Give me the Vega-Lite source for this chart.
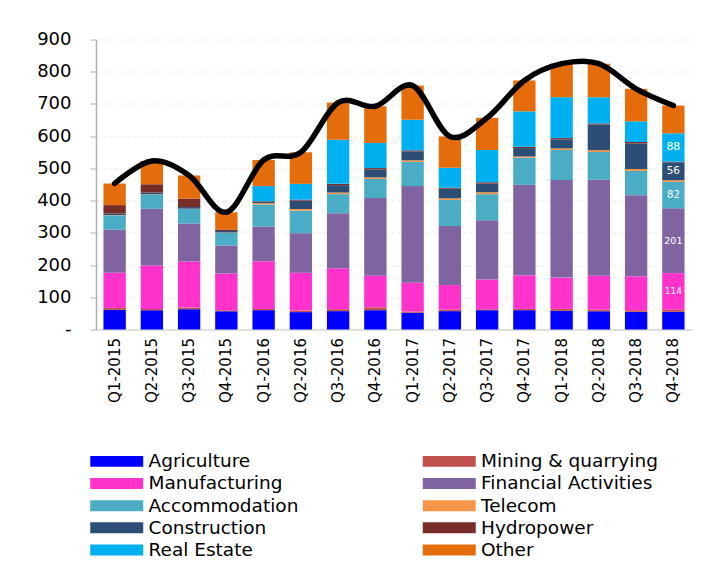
{
  "$schema": "https://vega.github.io/schema/vega-lite/v6.json",
  "autosize": {"type": "none"},
  "width": 596,
  "height": 290,
  "padding": {"left": 96, "top": 39.5, "right": 9, "bottom": 239.5},
  "background": "white",
  "config": {
    "font": "DejaVu Sans",
    "view": {"stroke": null},
    "axis": {"labelFont": "DejaVu Sans", "labelColor": "#000000", "title": null},
    "axisY": {"values": [0,100,200,300,400,500,600,700,800,900], "labelOverlap": false, "labelFlush": false, "labelFontSize": 18, "labelPadding": 19, "tickSize": 6, "tickColor": "#b0b0b0", "domainColor": "#b0b0b0", "domainWidth": 1.5, "grid": true, "gridColor": "#efece4", "gridDash": [4, 2]}
  },
  "data": {
    "values": [
      {"quarter":"Q1-2015","sector":"Agriculture","value":61},{"quarter":"Q1-2015","sector":"Mining & quarrying","value":6},{"quarter":"Q1-2015","sector":"Manufacturing","value":109},{"quarter":"Q1-2015","sector":"Financial Activities","value":134},{"quarter":"Q1-2015","sector":"Accommodation","value":44},{"quarter":"Q1-2015","sector":"Telecom","value":1},{"quarter":"Q1-2015","sector":"Construction","value":5},{"quarter":"Q1-2015","sector":"Hydropower","value":26},{"quarter":"Q1-2015","sector":"Other","value":67},
      {"quarter":"Q2-2015","sector":"Agriculture","value":60},{"quarter":"Q2-2015","sector":"Mining & quarrying","value":4},{"quarter":"Q2-2015","sector":"Manufacturing","value":135},{"quarter":"Q2-2015","sector":"Financial Activities","value":176},{"quarter":"Q2-2015","sector":"Accommodation","value":44},{"quarter":"Q2-2015","sector":"Telecom","value":1},{"quarter":"Q2-2015","sector":"Construction","value":5},{"quarter":"Q2-2015","sector":"Hydropower","value":26},{"quarter":"Q2-2015","sector":"Other","value":72},
      {"quarter":"Q3-2015","sector":"Agriculture","value":63},{"quarter":"Q3-2015","sector":"Mining & quarrying","value":5},{"quarter":"Q3-2015","sector":"Manufacturing","value":143},{"quarter":"Q3-2015","sector":"Financial Activities","value":118},{"quarter":"Q3-2015","sector":"Accommodation","value":45},{"quarter":"Q3-2015","sector":"Telecom","value":1},{"quarter":"Q3-2015","sector":"Construction","value":5},{"quarter":"Q3-2015","sector":"Hydropower","value":26},{"quarter":"Q3-2015","sector":"Other","value":72},
      {"quarter":"Q4-2015","sector":"Agriculture","value":57},{"quarter":"Q4-2015","sector":"Mining & quarrying","value":3},{"quarter":"Q4-2015","sector":"Manufacturing","value":114},{"quarter":"Q4-2015","sector":"Financial Activities","value":87},{"quarter":"Q4-2015","sector":"Accommodation","value":39},{"quarter":"Q4-2015","sector":"Telecom","value":1},{"quarter":"Q4-2015","sector":"Construction","value":5},{"quarter":"Q4-2015","sector":"Hydropower","value":4},{"quarter":"Q4-2015","sector":"Other","value":54},
      {"quarter":"Q1-2016","sector":"Agriculture","value":60},{"quarter":"Q1-2016","sector":"Mining & quarrying","value":4},{"quarter":"Q1-2016","sector":"Manufacturing","value":148},{"quarter":"Q1-2016","sector":"Financial Activities","value":107},{"quarter":"Q1-2016","sector":"Accommodation","value":69},{"quarter":"Q1-2016","sector":"Telecom","value":4},{"quarter":"Q1-2016","sector":"Construction","value":4},{"quarter":"Q1-2016","sector":"Hydropower","value":2},{"quarter":"Q1-2016","sector":"Real Estate","value":47},{"quarter":"Q1-2016","sector":"Other","value":81},
      {"quarter":"Q2-2016","sector":"Agriculture","value":54},{"quarter":"Q2-2016","sector":"Mining & quarrying","value":5},{"quarter":"Q2-2016","sector":"Manufacturing","value":117},{"quarter":"Q2-2016","sector":"Financial Activities","value":123},{"quarter":"Q2-2016","sector":"Accommodation","value":70},{"quarter":"Q2-2016","sector":"Telecom","value":5},{"quarter":"Q2-2016","sector":"Construction","value":26},{"quarter":"Q2-2016","sector":"Hydropower","value":3},{"quarter":"Q2-2016","sector":"Real Estate","value":49},{"quarter":"Q2-2016","sector":"Other","value":98},
      {"quarter":"Q3-2016","sector":"Agriculture","value":57},{"quarter":"Q3-2016","sector":"Mining & quarrying","value":6},{"quarter":"Q3-2016","sector":"Manufacturing","value":127},{"quarter":"Q3-2016","sector":"Financial Activities","value":171},{"quarter":"Q3-2016","sector":"Accommodation","value":59},{"quarter":"Q3-2016","sector":"Telecom","value":5},{"quarter":"Q3-2016","sector":"Construction","value":23},{"quarter":"Q3-2016","sector":"Hydropower","value":4},{"quarter":"Q3-2016","sector":"Real Estate","value":137},{"quarter":"Q3-2016","sector":"Other","value":115},
      {"quarter":"Q4-2016","sector":"Agriculture","value":60},{"quarter":"Q4-2016","sector":"Mining & quarrying","value":9},{"quarter":"Q4-2016","sector":"Manufacturing","value":98},{"quarter":"Q4-2016","sector":"Financial Activities","value":241},{"quarter":"Q4-2016","sector":"Accommodation","value":59},{"quarter":"Q4-2016","sector":"Telecom","value":5},{"quarter":"Q4-2016","sector":"Construction","value":25},{"quarter":"Q4-2016","sector":"Hydropower","value":4},{"quarter":"Q4-2016","sector":"Real Estate","value":78},{"quarter":"Q4-2016","sector":"Other","value":114},
      {"quarter":"Q1-2017","sector":"Agriculture","value":52},{"quarter":"Q1-2017","sector":"Mining & quarrying","value":4},{"quarter":"Q1-2017","sector":"Manufacturing","value":89},{"quarter":"Q1-2017","sector":"Financial Activities","value":300},{"quarter":"Q1-2017","sector":"Accommodation","value":75},{"quarter":"Q1-2017","sector":"Telecom","value":5},{"quarter":"Q1-2017","sector":"Construction","value":28},{"quarter":"Q1-2017","sector":"Hydropower","value":3},{"quarter":"Q1-2017","sector":"Real Estate","value":95},{"quarter":"Q1-2017","sector":"Other","value":106},
      {"quarter":"Q2-2017","sector":"Agriculture","value":57},{"quarter":"Q2-2017","sector":"Mining & quarrying","value":5},{"quarter":"Q2-2017","sector":"Manufacturing","value":76},{"quarter":"Q2-2017","sector":"Financial Activities","value":183},{"quarter":"Q2-2017","sector":"Accommodation","value":81},{"quarter":"Q2-2017","sector":"Telecom","value":5},{"quarter":"Q2-2017","sector":"Construction","value":30},{"quarter":"Q2-2017","sector":"Hydropower","value":3},{"quarter":"Q2-2017","sector":"Real Estate","value":62},{"quarter":"Q2-2017","sector":"Other","value":97},
      {"quarter":"Q3-2017","sector":"Agriculture","value":60},{"quarter":"Q3-2017","sector":"Mining & quarrying","value":3},{"quarter":"Q3-2017","sector":"Manufacturing","value":92},{"quarter":"Q3-2017","sector":"Financial Activities","value":184},{"quarter":"Q3-2017","sector":"Accommodation","value":81},{"quarter":"Q3-2017","sector":"Telecom","value":6},{"quarter":"Q3-2017","sector":"Construction","value":27},{"quarter":"Q3-2017","sector":"Hydropower","value":4},{"quarter":"Q3-2017","sector":"Real Estate","value":100},{"quarter":"Q3-2017","sector":"Other","value":100},
      {"quarter":"Q4-2017","sector":"Agriculture","value":60},{"quarter":"Q4-2017","sector":"Mining & quarrying","value":4},{"quarter":"Q4-2017","sector":"Manufacturing","value":104},{"quarter":"Q4-2017","sector":"Financial Activities","value":281},{"quarter":"Q4-2017","sector":"Accommodation","value":84},{"quarter":"Q4-2017","sector":"Telecom","value":4},{"quarter":"Q4-2017","sector":"Construction","value":26},{"quarter":"Q4-2017","sector":"Hydropower","value":4},{"quarter":"Q4-2017","sector":"Real Estate","value":110},{"quarter":"Q4-2017","sector":"Other","value":96},
      {"quarter":"Q1-2018","sector":"Agriculture","value":58},{"quarter":"Q1-2018","sector":"Mining & quarrying","value":6},{"quarter":"Q1-2018","sector":"Manufacturing","value":97},{"quarter":"Q1-2018","sector":"Financial Activities","value":303},{"quarter":"Q1-2018","sector":"Accommodation","value":93},{"quarter":"Q1-2018","sector":"Telecom","value":5},{"quarter":"Q1-2018","sector":"Construction","value":28},{"quarter":"Q1-2018","sector":"Hydropower","value":4},{"quarter":"Q1-2018","sector":"Real Estate","value":127},{"quarter":"Q1-2018","sector":"Other","value":104},
      {"quarter":"Q2-2018","sector":"Agriculture","value":57},{"quarter":"Q2-2018","sector":"Mining & quarrying","value":5},{"quarter":"Q2-2018","sector":"Manufacturing","value":105},{"quarter":"Q2-2018","sector":"Financial Activities","value":298},{"quarter":"Q2-2018","sector":"Accommodation","value":86},{"quarter":"Q2-2018","sector":"Telecom","value":5},{"quarter":"Q2-2018","sector":"Construction","value":80},{"quarter":"Q2-2018","sector":"Hydropower","value":3},{"quarter":"Q2-2018","sector":"Real Estate","value":82},{"quarter":"Q2-2018","sector":"Other","value":104},
      {"quarter":"Q3-2018","sector":"Agriculture","value":55},{"quarter":"Q3-2018","sector":"Mining & quarrying","value":5},{"quarter":"Q3-2018","sector":"Manufacturing","value":105},{"quarter":"Q3-2018","sector":"Financial Activities","value":252},{"quarter":"Q3-2018","sector":"Accommodation","value":75},{"quarter":"Q3-2018","sector":"Telecom","value":6},{"quarter":"Q3-2018","sector":"Construction","value":79},{"quarter":"Q3-2018","sector":"Hydropower","value":5},{"quarter":"Q3-2018","sector":"Real Estate","value":64},{"quarter":"Q3-2018","sector":"Other","value":101},
      {"quarter":"Q4-2018","sector":"Agriculture","value":55},{"quarter":"Q4-2018","sector":"Mining & quarrying","value":6},{"quarter":"Q4-2018","sector":"Manufacturing","value":114},{"quarter":"Q4-2018","sector":"Financial Activities","value":201},{"quarter":"Q4-2018","sector":"Accommodation","value":82},{"quarter":"Q4-2018","sector":"Telecom","value":5},{"quarter":"Q4-2018","sector":"Construction","value":56},{"quarter":"Q4-2018","sector":"Hydropower","value":2},{"quarter":"Q4-2018","sector":"Real Estate","value":88},{"quarter":"Q4-2018","sector":"Other","value":86}
    ]
  },
  "transform": [
    {"calculate": "indexof(['Agriculture','Mining & quarrying','Manufacturing','Financial Activities','Accommodation','Telecom','Construction','Hydropower','Real Estate','Other'], datum.sector)", "as": "order_idx"}
  ],
  "encoding": {
    "x": {
      "field": "quarter", "type": "ordinal", "sort": null,
      "scale": {"paddingInner": 0.4, "paddingOuter": 0.2},
      "axis": {"labelAngle": -90, "labelFontSize": 15, "labelPadding": 8, "ticks": false, "domainColor": "#d9d9d9", "domainWidth": 1.5, "grid": false}
    }
  },
  "layer": [
    {
      "mark": {"type": "bar"},
      "encoding": {
        "y": {
          "field": "value", "type": "quantitative", "stack": "zero",
          "scale": {"domain": [0, 900], "nice": false},
          "axis": {"values": [0,100,200,300,400,500,600,700,800,900], "labelOverlap": false, "labelExpr": "datum.value == 0 ? '-' : datum.label"}
        },
        "color": {
          "field": "sector", "type": "nominal",
          "scale": {
            "domain": ["Agriculture","Mining & quarrying","Manufacturing","Financial Activities","Accommodation","Telecom","Construction","Hydropower","Real Estate","Other"],
            "range": ["#0000FF","#C0504D","#FF33CC","#8064A2","#4BACC6","#F79646","#2C4D75","#772C2A","#00B0F0","#E46C0A"]
          },
          "legend": {
            "title": null, "orient": "none", "direction": "horizontal", "legendX": 11.5, "legendY": 412.5, "columns": 2,
            "gridAlign": "each", "columnPadding": 123.5, "rowPadding": 3.2,
            "symbolType": "M-2.944,-0.611H2.944V0.611H-2.944Z", "symbolSize": 324, "symbolStrokeWidth": 0, "symbolOpacity": 1,
            "labelFont": "DejaVu Sans", "labelFontSize": 18.5, "labelColor": "#000000", "labelOffset": 22.5, "labelLimit": 400, "padding": 0
          }
        },
        "order": {"field": "order_idx", "type": "quantitative", "sort": "ascending"}
      }
    },
    {
      "mark": {"type": "line", "interpolate": "cardinal", "tension": 0, "color": "#000000", "strokeWidth": 5.5, "strokeCap": "round"},
      "encoding": {
        "y": {"aggregate": "sum", "field": "value", "type": "quantitative",
          "axis": {"values": [0,100,200,300,400,500,600,700,800,900], "labelOverlap": false, "labelExpr": "datum.value == 0 ? '-' : datum.label"}}
      }
    },
    {
      "transform": [
        {"stack": "value", "groupby": ["quarter"], "sort": [{"field": "order_idx", "order": "ascending"}], "as": ["y0", "y1"]},
        {"calculate": "(datum.y0 + datum.y1) / 2", "as": "mid"},
        {"filter": "datum.quarter == 'Q4-2018' && indexof(['Manufacturing','Financial Activities','Accommodation','Construction','Real Estate'], datum.sector) >= 0"}
      ],
      "mark": {"type": "text", "color": "#ffffff", "baseline": "middle", "align": "center", "font": "DejaVu Sans"},
      "encoding": {
        "y": {"field": "mid", "type": "quantitative",
          "axis": {"values": [0,100,200,300,400,500,600,700,800,900], "labelOverlap": false, "labelExpr": "datum.value == 0 ? '-' : datum.label"}},
        "text": {"field": "value", "type": "quantitative"},
        "size": {
          "field": "sector", "type": "nominal", "legend": null,
          "scale": {"domain": ["Manufacturing","Financial Activities","Accommodation","Construction","Real Estate"], "range": [9, 11, 14, 16, 14.5]}
        }
      }
    }
  ]
}
